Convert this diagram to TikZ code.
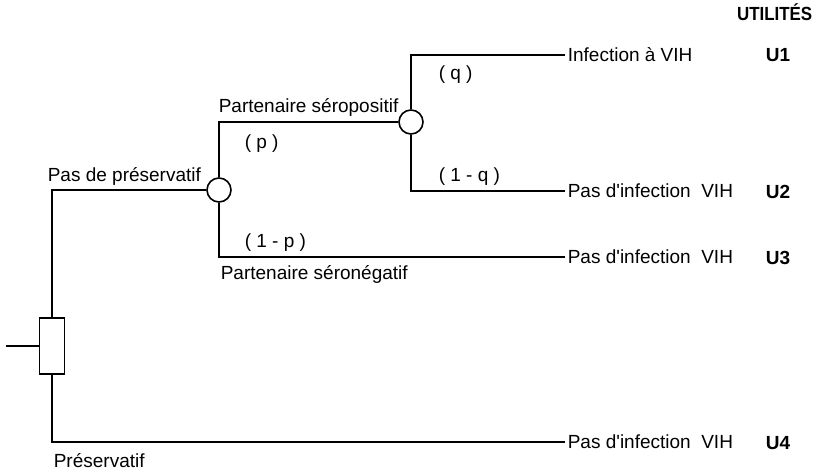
\documentclass[tikz,border=0pt]{standalone}
\usepackage{fontspec}
\setmainfont{Liberation Sans}[Ligatures=TeXOff]
\begin{document}
\begin{tikzpicture}[x=1pt,y=-1pt,
  line width=1.6pt,
  every node/.style={font=\fontsize{19}{22}\selectfont},
  lbl/.style={anchor=base west,inner sep=0pt},
  util/.style={anchor=base west,inner sep=0pt,font=\fontsize{19}{22}\selectfont\bfseries},
  chance/.style={circle,draw,fill=white,minimum size=24pt,inner sep=0pt},
  decision/.style={rectangle,draw,fill=white,minimum width=25pt,minimum height=56pt,inner sep=0pt},
  term/.style={anchor=west,inner sep=0pt,text depth=0pt}
]
\useasboundingbox (0,0) rectangle (821,473);

% nodes of the tree
\node[decision] (dec) at (52,346) {};
\coordinate (root) at (6,346);
\node[chance] (c1) at (219,190) {};
\node[chance] (c2) at (411,122) {};

% outcomes
\node[term] (t1) at (567,55) {Infection à VIH};
\node[term] (t2) at (567,191) {Pas d'infection\ \ VIH};
\node[term] (t3) at (567,257) {Pas d'infection\ \ VIH};
\node[term] (t4) at (567,442) {Pas d'infection\ \ VIH};

% branches
\draw (root) -- (dec.west);
\draw (dec.north) -- (dec.north |- c1) -- (c1.west);
\draw (dec.south) -- (dec.south |- t4) -- ([xshift=-2pt]t4.west);
\draw (c1.north) -- (c1.north |- c2) -- (c2.west);
\draw (c1.south) -- (c1.south |- t3) -- ([xshift=-2pt]t3.west);
\draw (c2.north) -- (c2.north |- t1) -- ([xshift=-2pt]t1.west);
\draw (c2.south) -- (c2.south |- t2) -- ([xshift=-2pt]t2.west);

% branch labels
\node[lbl] at (47,182) {Pas de préservatif};
\node[lbl] at (53,467) {Préservatif};
\node[lbl] at (218,113) {Partenaire séropositif};
\node[lbl] at (244,149) {( p )};
\node[lbl] at (244,247) {( 1 - p )};
\node[lbl] at (220,279) {Partenaire séronégatif};
\node[lbl] at (438,80) {( q )};
\node[lbl] at (438,182) {( 1 - q )};

% utilities
\node[util,anchor=base east] at (813,21) {\scalebox{0.89}[1]{UTILITÉS}};
\node[util] at (765,62) {U1};
\node[util] at (765,198) {U2};
\node[util] at (765,264) {U3};
\node[util] at (765,449) {U4};
\end{tikzpicture}
\end{document}
